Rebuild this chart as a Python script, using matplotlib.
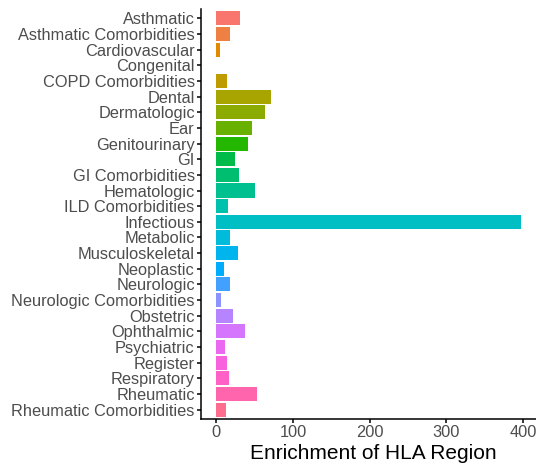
import numpy as np
import matplotlib
matplotlib.use('Agg')
import matplotlib.pyplot as plt

plt.rcParams['font.family'] = ['Liberation Sans', 'DejaVu Sans']

# categories (top to bottom) and enrichment values
categories = ['Asthmatic', 'Asthmatic Comorbidities', 'Cardiovascular', 'Congenital',
              'COPD Comorbidities', 'Dental', 'Dermatologic', 'Ear', 'Genitourinary', 'GI',
              'GI Comorbidities', 'Hematologic', 'ILD Comorbidities', 'Infectious',
              'Metabolic', 'Musculoskeletal', 'Neoplastic', 'Neurologic',
              'Neurologic Comorbidities', 'Obstetric', 'Ophthalmic', 'Psychiatric',
              'Register', 'Respiratory', 'Rheumatic', 'Rheumatic Comorbidities']
enrichment = [31.6, 18, 4.7, 0, 14.5, 71.5, 63.6, 46, 40.8, 25, 30, 50.4, 15.8, 397,
              17.5, 29, 9.6, 18.4, 6.6, 21.5, 38, 11.8, 13.5, 17, 53.4, 12.7]
x_ticks = [0, 100, 200, 300, 400]


# ggplot2 hue palette (hcl, l=65, c=100)
def hue_pal(n, l=65, c=100):
    hues = np.linspace(15, 375, n + 1)[:-1]
    out = []
    # D65 white
    Xn, Yn, Zn = 95.047, 100.0, 108.883
    un = 4 * Xn / (Xn + 15 * Yn + 3 * Zn)
    vn = 9 * Yn / (Xn + 15 * Yn + 3 * Zn)
    for h in hues:
        u = c * np.cos(np.radians(h))
        v = c * np.sin(np.radians(h))
        Y = Yn * (((l + 16) / 116) ** 3 if l > 8 else l / 903.3)
        up = u / (13 * l) + un
        vp = v / (13 * l) + vn
        X = 9.0 * Y * up / (4 * vp)
        Z = -X / 3 - 5 * Y + 3 * Y / vp
        xyz = np.array([X, Y, Z]) / 100
        m = np.array([[3.240479, -1.537150, -0.498535],
                      [-0.969256, 1.875992, 0.041556],
                      [0.055648, -0.204043, 1.057311]])
        rgb = m @ xyz
        rgb = np.where(rgb > 0.00304, 1.055 * np.power(np.clip(rgb, 0, None), 1 / 2.4) - 0.055, 12.92 * rgb)
        out.append(tuple(np.clip(rgb, 0, 1)))
    return out


colors = hue_pal(len(categories))

fig = plt.figure(figsize=(5.36, 4.63), dpi=100)
ax = fig.add_axes([201 / 536, 1 - 419 / 463, 335 / 536, 410 / 463])

ypos = np.arange(len(categories))
ax.barh(ypos, enrichment, height=0.9, color=colors)

xmax = max(enrichment)
ax.set_xlim(-0.05 * xmax, 1.05 * xmax)
ax.set_ylim(len(categories) - 1 + 0.6, -0.6)
ax.set_yticks(ypos)
ax.set_yticklabels(categories)
ax.set_xticks(x_ticks)

for s in ['top', 'right']:
    ax.spines[s].set_visible(False)
for s in ['left', 'bottom']:
    ax.spines[s].set_linewidth(1.1)
ax.tick_params(axis='both', labelsize=11.8, labelcolor='#4D4D4D', length=3, width=1.1, pad=1.5)
ax.set_xlabel('Enrichment of HLA Region', fontsize=15, labelpad=3)
ax.xaxis.set_label_coords(0.515, -0.062)

plt.savefig('out.png', dpi=100)
